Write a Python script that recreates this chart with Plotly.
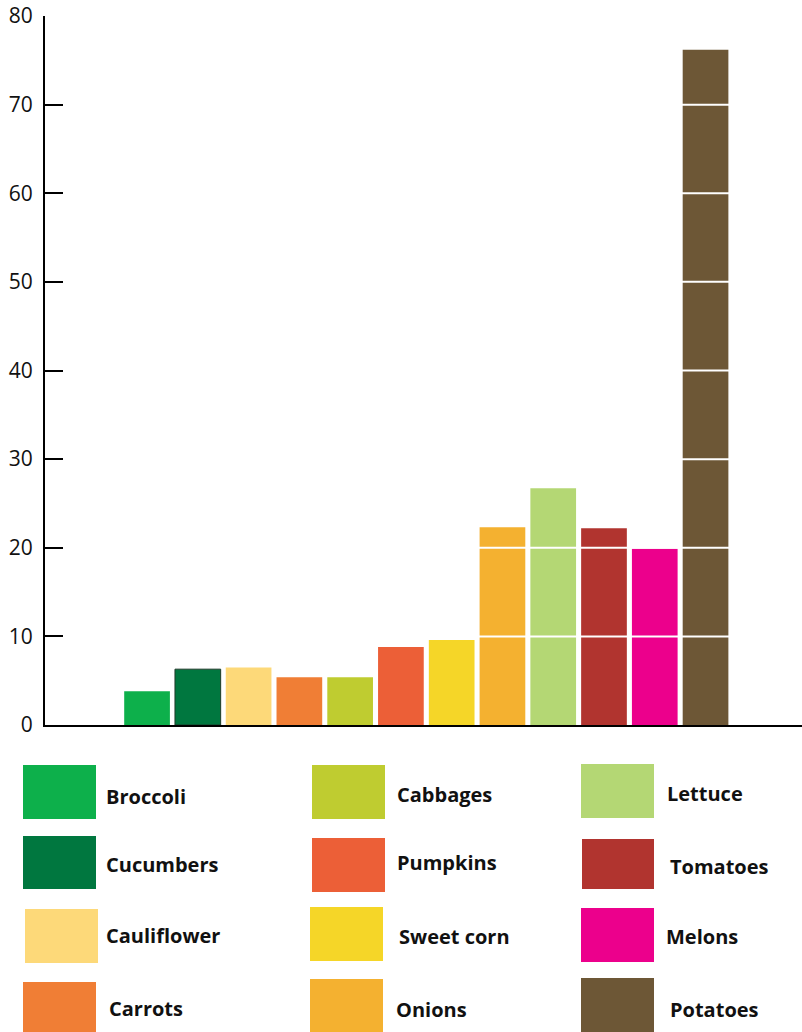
import plotly.graph_objects as go

# Vegetable categories and their values
categories = ["Broccoli", "Cucumbers", "Cauliflower", "Carrots", "Cabbages", "Pumpkins",
              "Sweet corn", "Onions", "Lettuce", "Tomatoes", "Melons", "Potatoes"]
values = [3.8, 6.3, 6.5, 5.4, 5.4, 8.8, 9.6, 22.3, 26.7, 22.2, 19.9, 76.2]
colors = ["#0DB04B", "#00773F", "#FDD979", "#F07E35", "#BFCC30", "#EC5F37",
          "#F5D628", "#F4B130", "#B4D774", "#B1342F", "#EC008C", "#6D5736"]
y_ticks = [0, 10, 20, 30, 40, 50, 60, 70, 80]

W, H = 802, 1032
PLOT_L, PLOT_R, PLOT_T, PLOT_B = 45, 802, 16, 725


def px_x(px):
    return (px - PLOT_L) / (PLOT_R - PLOT_L)


def px_y(py):
    return (PLOT_B - py) / (PLOT_B - PLOT_T)


outline_colors = ["#1f3a2a" if c == "Cucumbers" else "rgba(0,0,0,0)" for c in categories]

fig = go.Figure(go.Bar(
    x=categories,
    y=values,
    width=0.9,
    marker=dict(color=colors, line=dict(color=outline_colors, width=1)),
    showlegend=False,
    hoverinfo="x+y",
))

shapes = []
# white horizontal rules drawn across the bars
for t in y_ticks[1:-1]:
    shapes.append(dict(type="line", xref="x", yref="y", x0=-1.2, x1=12.9, y0=t, y1=t,
                       line=dict(color="white", width=2), layer="above"))

# legend grid: swatch rectangles (pixel boxes) and label anchors
legend_boxes = [
    (23, 765, 96, 819), (23, 836, 96, 889), (25, 909, 98, 963), (23, 982, 96, 1032),
    (312, 765, 385, 819), (312, 838, 385, 892), (310, 907, 383, 961), (310, 979, 383, 1032),
    (581, 764, 654, 818), (582, 839, 654, 889), (581, 908, 654, 962), (581, 978, 654, 1032),
]
legend_order = ["Broccoli", "Cucumbers", "Cauliflower", "Carrots",
                "Cabbages", "Pumpkins", "Sweet corn", "Onions",
                "Lettuce", "Tomatoes", "Melons", "Potatoes"]
label_pos = [
    (104, 796), (104, 865), (104, 935), (107, 1008),
    (395, 794), (395, 863), (397, 936), (394, 1009),
    (665, 793), (668, 867), (664, 936), (668, 1009),
]

annotations = []
for name, box, lp in zip(legend_order, legend_boxes, label_pos):
    col = colors[categories.index(name)]
    x0, y0, x1, y1 = box
    shapes.append(dict(type="rect", xref="paper", yref="paper",
                       x0=px_x(x0), x1=px_x(x1), y0=px_y(y1), y1=px_y(y0),
                       fillcolor=col, line=dict(width=0), layer="above"))
    annotations.append(dict(text=f"<b>{name}</b>", xref="paper", yref="paper",
                            x=px_x(lp[0]), y=px_y(lp[1]), xanchor="left", yanchor="middle",
                            showarrow=False,
                            font=dict(family="Open Sans", size=20, color="#111111")))

fig.update_layout(
    width=W, height=H,
    margin=dict(l=PLOT_L, r=W - PLOT_R, t=PLOT_T, b=H - PLOT_B),
    paper_bgcolor="white", plot_bgcolor="white",
    shapes=shapes, annotations=annotations,
    xaxis=dict(type="category", range=[-2.01, 12.9], showticklabels=False, ticks="",
               showgrid=False, showline=True, linecolor="black", linewidth=2, zeroline=False,
               fixedrange=True),
    yaxis=dict(range=[0, 80], tickvals=y_ticks, ticks="inside", ticklen=18, tickwidth=2,
               tickcolor="black", showgrid=False, showline=True, linecolor="black",
               linewidth=2, zeroline=False, ticklabelstandoff=6,
               tickfont=dict(family="Open Sans", size=21, color="#111111"),
               fixedrange=True),
    bargap=0.1,
)

fig.write_html("out.html")
